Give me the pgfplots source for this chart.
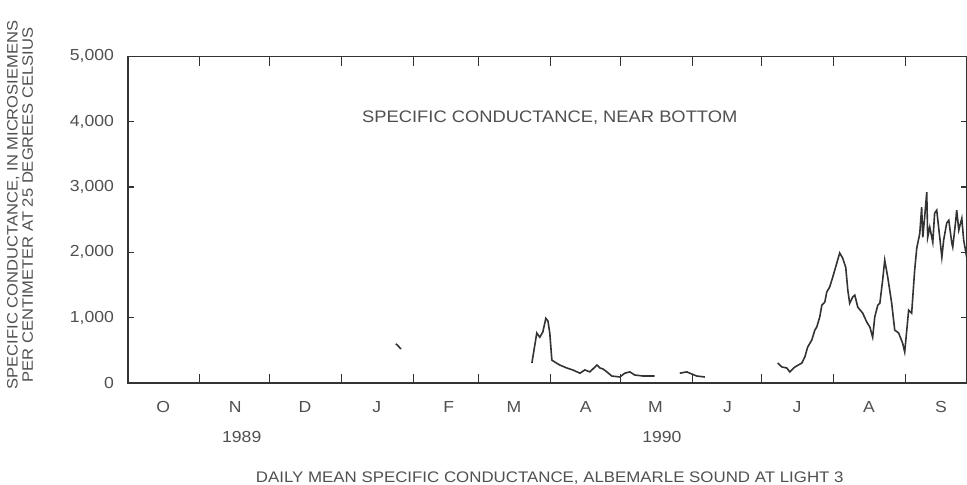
\documentclass[border=0pt]{standalone}
\usepackage{pgfplots}
\pgfplotsset{compat=1.18}
\usepackage{fontspec}
\setmainfont[FakeStretch=1.1]{Liberation Sans}
\definecolor{ink}{HTML}{333333}
\definecolor{txt}{HTML}{505050}

\begin{document}
\begin{tikzpicture}
\useasboundingbox (0,0) rectangle (725.25pt,363.75pt);
\begin{axis}[
  scale only axis, width=629pt, height=245pt,
  at={(96pt,76.5pt)}, anchor=south west,
  xmin=0, xmax=361.3, ymin=0, ymax=5000,
  axis line style={ink, line width=0.9pt},
  every tick/.style={ink, line width=0.8pt},
  tick align=inside,
  major tick length=7pt, minor tick length=2.5pt,
  xtick={0,31,61,92,123,151,182,212,243,273,304,335},
  xticklabels={O,N,D,J,F,M,A,M,J,J,A,S},
  xticklabel style={xshift=26.5pt, yshift=-10pt},
  ytick=\empty,
  minor ytick={200,400,600,800,1200,1400,1600,1800,2200,2400,2600,2800,3200,3400,3600,3800,4200,4400,4600,4800},
  extra y ticks={0,1000,2000,3000,4000,5000},
  extra y tick style={major tick length=4.5pt},
  yticklabel style={/pgf/number format/1000 sep={,}, /pgf/number format/assume math mode=true, xshift=-7pt},
  tick label style={font=\fontsize{12}{14}\selectfont, text=txt},
  clip=false,
]
\addplot[ink, line width=1.2pt] coordinates {(115.4,600) (116.3,570) (117.6,520)};
\addplot[ink, line width=1.2pt] coordinates {
(174.0,306) (176.1,765) (177.4,700) (178.7,780) (180.0,990) (180.9,950) (181.7,765)
(182.6,350) (183.9,320) (186.0,275) (189.0,230) (191.6,200) (194.7,150) (196.8,200)
(199.0,170) (202.0,275) (203.3,230) (204.6,215) (206.3,170) (208.4,107) (211.9,92)
(214.0,150) (216.2,170) (218.3,122) (221.8,107) (226.9,107)};
\addplot[ink, line width=1.2pt] coordinates {
(237.7,150) (240.7,170) (242.9,137) (245.0,107) (248.5,92)};
\addplot[ink, line width=1.2pt] coordinates {
(279.9,306) (281.7,245) (283.8,230) (285.1,170) (287.3,245) (290.3,306) (291.6,400)
(292.8,550) (294.6,660) (295.9,810) (296.7,856) (298.0,1010) (298.9,1190) (300.2,1240)
(301.0,1390) (302.3,1470) (303.6,1620) (305.3,1830) (306.6,1990) (307.9,1910) (309.2,1770)
(310.1,1420) (310.9,1220) (312.2,1315) (313.1,1345) (314.4,1160) (316.5,1070) (318.3,930)
(319.6,856) (320.8,700) (321.7,1010) (323.0,1190) (323.9,1220) (325.1,1575) (326.0,1880)
(327.3,1620) (329.0,1220) (330.3,810) (332.0,765) (333.7,610) (334.6,475) (335.5,810)
(336.3,1115) (337.6,1070) (338.9,1730) (339.8,2065) (341.1,2290) (341.9,2690) (342.4,2230)
(343.2,2540) (344.1,2920) (344.5,2230) (345.4,2385) (346.7,2155) (347.5,2600) (348.4,2645)
(349.7,2230) (350.6,1925) (351.4,2190) (352.7,2450) (353.6,2490) (354.9,2140) (355.3,2080)
(356.6,2490) (357.0,2645) (357.9,2340) (359.2,2520) (360.0,2190) (361.3,1925)};
\node[font=\fontsize{12.5}{14}\selectfont, text=txt] at (axis cs:181.7,4067) {SPECIFIC CONDUCTANCE, NEAR BOTTOM};
\node[font=\fontsize{12}{14}\selectfont, text=txt] at (axis cs:49,0) [yshift=-40.5pt] {1989};
\node[font=\fontsize{12}{14}\selectfont, text=txt] at (axis cs:230,0) [yshift=-40.5pt] {1990};
\node[font=\fontsize{11.5}{13}\selectfont, text=txt] at (axis cs:181.7,0) [yshift=-71pt]
  {DAILY MEAN SPECIFIC CONDUCTANCE, ALBEMARLE SOUND AT LIGHT 3};
\node[xshift=-81pt, yshift=11pt, rotate=90, align=center, font=\fontsize{11.3}{11.5}\selectfont, text=txt] at (axis cs:0,2500)
  {SPECIFIC CONDUCTANCE, IN MICROSIEMENS\\PER CENTIMETER AT 25 DEGREES CELSIUS};
\end{axis}
\end{tikzpicture}
\end{document}
